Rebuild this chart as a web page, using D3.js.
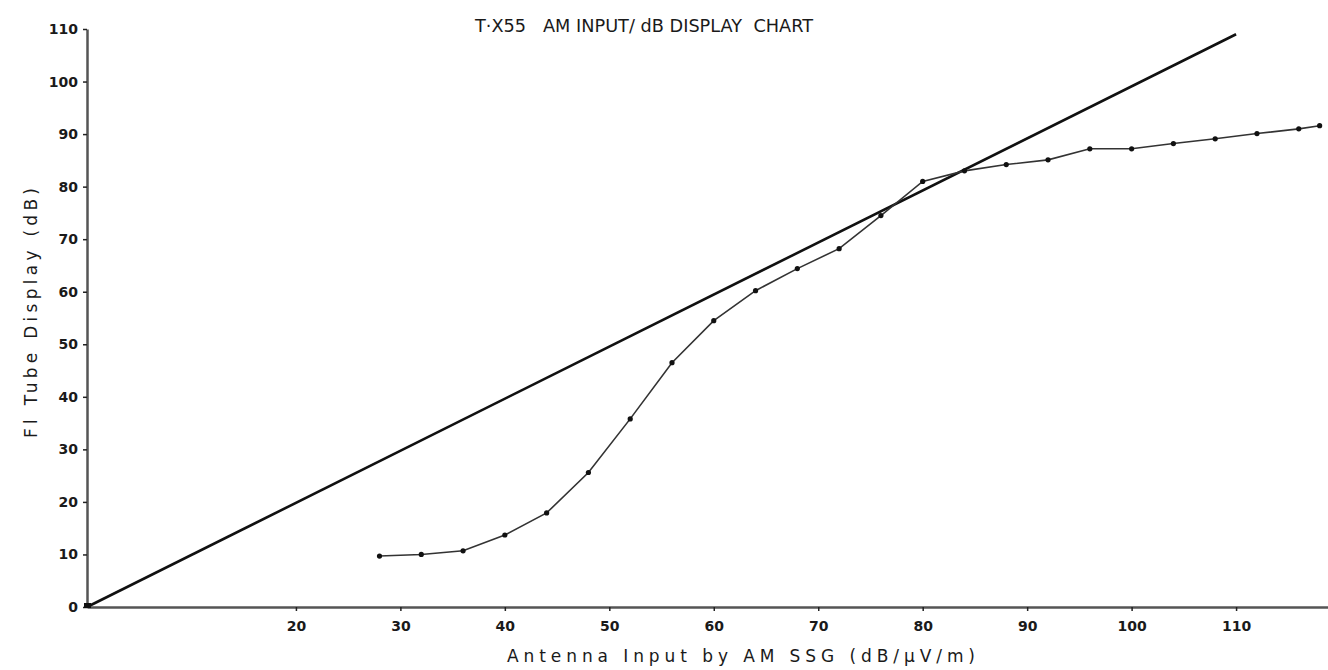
<!DOCTYPE html>
<html>
  <head>
    <title>T-X55 AM Input / dB Display Chart</title>
    <script src="https://d3js.org/d3.v7.min.js"></script>
    <style>
      body { margin: 0; background: white; }
      text { font-family: "DejaVu Sans", sans-serif; fill: #1a1a1a; }
      .tick text { font-size: 14px; font-weight: bold; }
      .tick line { stroke: #222; stroke-width: 1.5px; }
      .domain { stroke: #555; stroke-width: 2.5px; }
    </style>
  </head>
  <body>
    <script>
      let width = 1328, height = 670;

      // antenna input (dB/uV/m)
      let inputs = [28, 32, 36, 40, 44, 48, 52, 56, 60, 64, 68, 72, 76, 80, 84, 88, 92, 96, 100, 104, 108, 112, 116, 118];
      // FL tube display (dB)
      let display = [9.7, 10, 10.7, 13.7, 17.9, 25.6, 35.8, 46.5, 54.5, 60.2, 64.4, 68.2, 74.5, 81, 83, 84.2, 85.1, 87.2, 87.2, 88.2, 89.1, 90.1, 91, 91.6];
      // ideal reference line
      let refX = [0, 110];
      let refY = [0, 109];

      let xTicks = [20, 30, 40, 50, 60, 70, 80, 90, 100, 110];
      let yTicks = [0, 10, 20, 30, 40, 50, 60, 70, 80, 90, 100, 110];

      let svg = d3.select("body").append("svg")
                  .attr("width", width)
                  .attr("height", height)

      let x = d3.scaleLinear().domain([0, 118.8]).range([87, 1328])
      let y = d3.scaleLinear().domain([0, 110]).range([607, 29])

      svg.append("g")
         .attr("transform", "translate(0, 607)")
         .call(d3.axisBottom(x).tickValues(xTicks).tickSize(4).tickSizeOuter(0).tickPadding(10))

      svg.append("g")
         .attr("transform", "translate(87, 0)")
         .call(d3.axisLeft(y).tickValues(yTicks).tickSize(4).tickSizeOuter(0).tickPadding(5))

      // reference line
      let ref = refX.map(function(d, i) { return [d, refY[i]] })
      svg.append("path")
         .datum(ref)
         .attr("fill", "none")
         .attr("stroke", "#111")
         .attr("stroke-width", 2.6)
         .attr("d", d3.line().x(function(d) { return x(d[0]) }).y(function(d) { return y(d[1]) }))

      // measured curve
      let points = inputs.map(function(d, i) { return [d, display[i]] })
      svg.append("path")
         .datum(points)
         .attr("fill", "none")
         .attr("stroke", "#333")
         .attr("stroke-width", 1.6)
         .attr("d", d3.line().x(function(d) { return x(d[0]) }).y(function(d) { return y(d[1]) }))

      svg.append("g").selectAll("circle").data(points)
         .enter().append("circle")
         .attr("cx", function(d) { return x(d[0]) })
         .attr("cy", function(d) { return y(d[1]) })
         .attr("r", 2.6)
         .attr("fill", "#111")

      svg.append("rect").attr("x", x(0) - 3).attr("y", y(0) - 4).attr("width", 7).attr("height", 5).attr("fill", "#111")

      // titles
      svg.append("text")
         .attr("x", 475).attr("y", 32)
         .attr("textLength", 338).attr("lengthAdjust", "spacingAndGlyphs")
         .style("font-size", "17px")
         .style("white-space", "pre")
         .text("T·X55   AM INPUT/ dB DISPLAY  CHART")

      svg.append("text")
         .attr("x", 507).attr("y", 662)
         .attr("textLength", 468).attr("lengthAdjust", "spacing")
         .style("font-size", "17px")
         .text("Antenna Input by AM SSG (dB/μV/m)")

      svg.append("text")
         .attr("transform", "translate(37, 438) rotate(-90)")
         .attr("textLength", 250).attr("lengthAdjust", "spacing")
         .style("font-size", "17px")
         .text("Fl Tube Display (dB)")
    </script>
  </body>
</html>
